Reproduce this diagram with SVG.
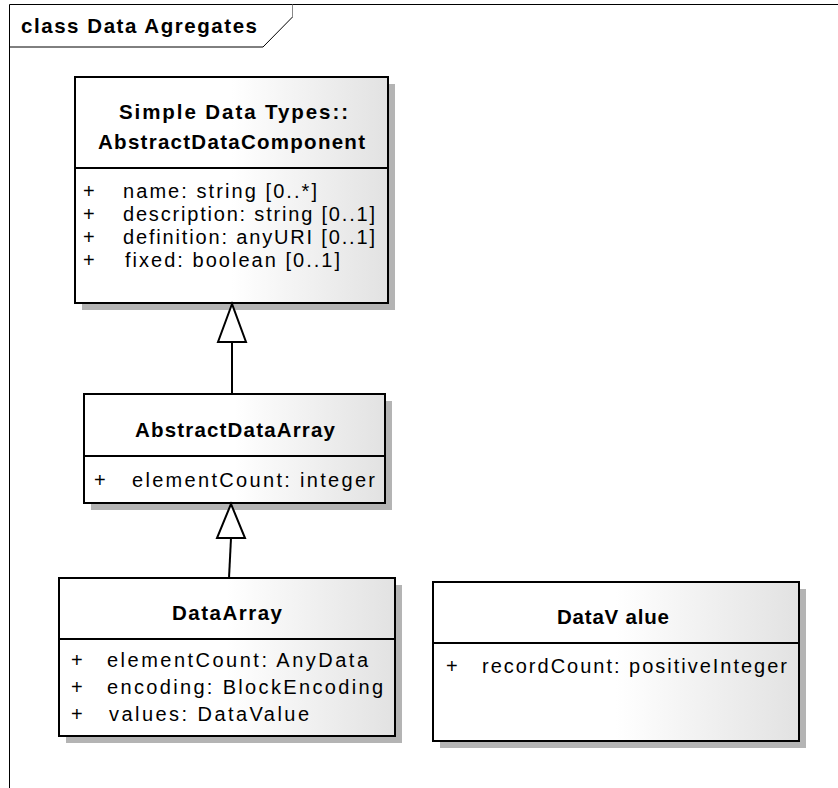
<svg xmlns="http://www.w3.org/2000/svg" width="838" height="788" viewBox="0 0 838 788">
<defs>
<linearGradient id="g" x1="0" y1="0" x2="1" y2="0">
<stop offset="0" stop-color="#ffffff"/>
<stop offset="0.5" stop-color="#ffffff"/>
<stop offset="1" stop-color="#e2e2e2"/>
</linearGradient>
</defs>
<style>
.sh{fill:#b4b4b4;stroke:none}
.bx{fill:url(#g);stroke:#000;stroke-width:2}
.dv{stroke:#000;stroke-width:2}
.t{font-family:"Liberation Sans",Arial,sans-serif;font-weight:bold;font-size:20.5px;fill:#000}
.a{font-family:"Liberation Sans",Arial,sans-serif;font-size:20px;fill:#000}
.ln{stroke:#000;stroke-width:2;fill:none}
.hd{fill:#fff;stroke:#000;stroke-width:2}
</style>
<rect width="838" height="788" fill="#fff"/>
<g id="frame">
<path d="M9.5,788 V4.5 H838" fill="none" stroke="#000" stroke-width="1"/>
<path d="M9.5,47 H263 L292.5,17 V4.5" fill="none" stroke="#000" stroke-width="1"/>
<path d="M292.5,4.5 V17" stroke="#888" stroke-width="1"/>
<text class="t" x="21" y="33" textLength="236">class Data Agregates</text>
</g>
<g id="AbstractDataComponent">
<rect class="sh" x="82" y="84" width="313" height="226"/>
<rect class="bx" x="75" y="77" width="313" height="226"/>
<line class="dv" x1="75" y1="168" x2="388" y2="168"/>
<text class="t" x="119" y="119" textLength="229">Simple Data Types::</text>
<text class="t" x="98" y="149" textLength="267">AbstractDataComponent</text>
<text class="a" x="83" y="198">+</text>
<text class="a" x="123" y="198" textLength="194">name:  string [0..*]</text>
<text class="a" x="83" y="221">+</text>
<text class="a" x="123" y="221" textLength="252">description:  string [0..1]</text>
<text class="a" x="83" y="244">+</text>
<text class="a" x="123" y="244" textLength="252">definition:  anyURI [0..1]</text>
<text class="a" x="83" y="267">+</text>
<text class="a" x="125" y="267" textLength="215">fixed:  boolean [0..1]</text>
</g>
<g id="AbstractDataArray">
<rect class="sh" x="91" y="401" width="301" height="109"/>
<rect class="bx" x="84" y="394" width="301" height="109"/>
<line class="dv" x1="84" y1="456" x2="385" y2="456"/>
<text class="t" x="135" y="437" textLength="200">AbstractDataArray</text>
<text class="a" x="94" y="487">+</text>
<text class="a" x="132" y="487" textLength="243">elementCount:  integer</text>
</g>
<g id="DataArray">
<rect class="sh" x="66" y="585" width="336" height="158"/>
<rect class="bx" x="59" y="578" width="336" height="158"/>
<line class="dv" x1="59" y1="639" x2="395" y2="639"/>
<text class="t" x="172" y="620" textLength="110">DataArray</text>
<text class="a" x="71" y="667">+</text>
<text class="a" x="107" y="667" textLength="261">elementCount:  AnyData</text>
<text class="a" x="71" y="694">+</text>
<text class="a" x="107" y="694" textLength="276">encoding:  BlockEncoding</text>
<text class="a" x="71" y="721">+</text>
<text class="a" x="109" y="721" textLength="200">values:  DataValue</text>
</g>
<g id="DataValue">
<rect class="sh" x="440" y="589" width="366" height="159"/>
<rect class="bx" x="433" y="582" width="366" height="159"/>
<line class="dv" x1="433" y1="643" x2="799" y2="643"/>
<text class="t" x="557" y="624" textLength="112">DataV alue</text>
<text class="a" x="446" y="673">+</text>
<text class="a" x="482" y="673" textLength="305">recordCount:  positiveInteger</text>
</g>
<g id="connectors">
<line class="ln" x1="232" y1="342" x2="232" y2="394"/>
<polygon class="hd" points="232,304 218,342 246,342"/>
<line class="ln" x1="231" y1="538" x2="229" y2="578"/>
<polygon class="hd" points="231,504 217,538 245,538"/>
</g>
</svg>
